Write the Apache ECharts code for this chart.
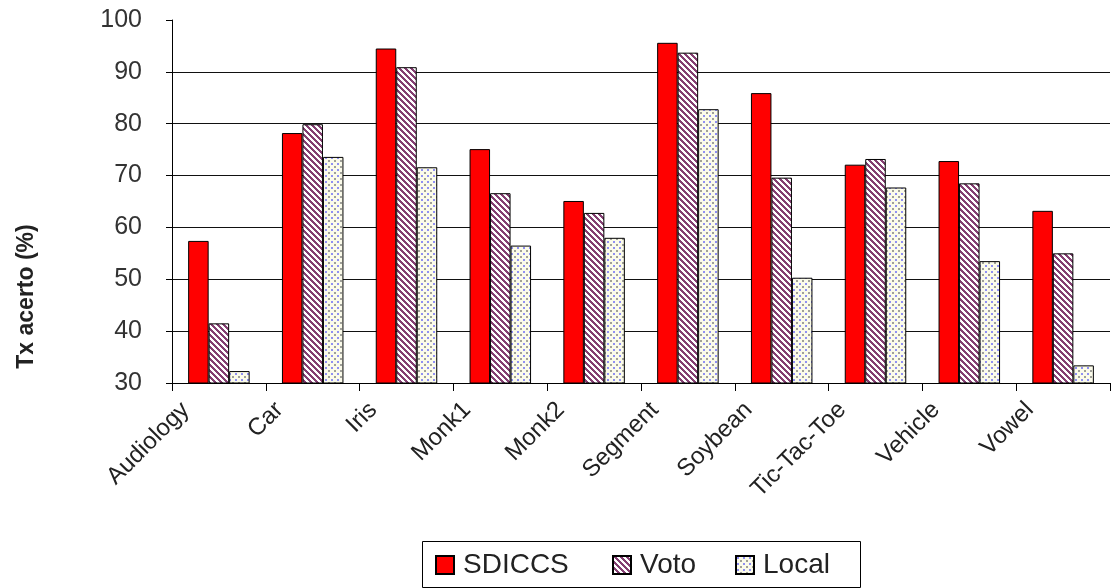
<!DOCTYPE html>
<html>
<head>
<meta charset="utf-8">
<title>Tx acerto por base de dados</title>
<script src="https://cdn.jsdelivr.net/npm/echarts@6/dist/echarts.min.js"></script>
<style>
  html, body { margin: 0; padding: 0; background: #ffffff; }
  #chart { width: 1112px; height: 588px; }
</style>
</head>
<body>
<div id="chart"></div>
<script>
// Accuracy (%) per dataset for three classifier combination strategies
const categories = ['Audiology', 'Car', 'Iris', 'Monk1', 'Monk2', 'Segment', 'Soybean', 'Tic-Tac-Toe', 'Vehicle', 'Vowel'];
const sdiccs = [57.4, 78.2, 94.5, 75.1, 65.1, 95.6, 85.9, 72.1, 72.8, 63.2];
const voto   = [41.5, 79.9, 90.9, 66.6, 62.8, 93.7, 69.6, 73.2, 68.5, 55.0];
const local  = [32.3, 73.6, 71.6, 56.5, 58.0, 82.8, 50.3, 67.7, 53.5, 33.4];
const seriesNames = ['SDICCS', 'Voto', 'Local'];
const yTicks = { min: 30, max: 100, step: 10 };

// Diagonal stripe fill (top-left to bottom-right)
function stripeTile() {
  const c = document.createElement('canvas');
  c.width = 6; c.height = 6;
  const ctx = c.getContext('2d');
  ctx.fillStyle = '#ffffff';
  ctx.fillRect(0, 0, 6, 6);
  ctx.fillStyle = '#843f72';
  for (let y = 0; y < 6; y++) {
    for (let x = 0; x < 6; x++) {
      if (((x - y) % 6 + 6) % 6 < 3) ctx.fillRect(x, y, 1, 1);
    }
  }
  return c;
}

// Small dotted fill on a pale background
function dotTile() {
  const c = document.createElement('canvas');
  c.width = 6; c.height = 6;
  const ctx = c.getContext('2d');
  ctx.fillStyle = '#fbfbea';
  ctx.fillRect(0, 0, 6, 6);
  ctx.fillStyle = '#8f8ff2';
  ctx.fillRect(1, 1, 2, 2);
  ctx.fillStyle = '#a0a09a';
  ctx.fillRect(4, 4, 2, 2);
  return c;
}

const fills = [
  '#ff0000',
  { image: stripeTile(), repeat: 'repeat' },
  { image: dotTile(), repeat: 'repeat' }
];
const values = [sdiccs, voto, local];

// Legend layout: one entry per series inside a shared framed box
const legendBox = { x: 422, y: 541, width: 438, height: 46 };
const legendLefts = [435, 612, 735];

const chart = echarts.init(document.getElementById('chart'), null, { renderer: 'canvas' });

const gridColors = [];
for (let v = yTicks.min; v <= yTicks.max; v += yTicks.step) {
  gridColors.push(v === yTicks.min || v === yTicks.max ? 'rgba(0,0,0,0)' : '#111111');
}

chart.setOption({
  animation: false,
  backgroundColor: '#ffffff',
  textStyle: { fontFamily: '"Liberation Sans", Arial, sans-serif' },
  grid: { left: 172, right: 2, top: 20, bottom: 205, containLabel: false },
  graphic: [{
    type: 'rect',
    z: 0,
    shape: { x: legendBox.x + 0.5, y: legendBox.y + 0.5, width: legendBox.width, height: legendBox.height },
    style: { fill: '#ffffff', stroke: '#000000', lineWidth: 1 }
  }],
  legend: seriesNames.map((n, i) => ({
    data: [n],
    icon: 'rect',
    top: legendBox.y + 10,
    left: legendLefts[i],
    padding: 0,
    itemWidth: 18,
    itemHeight: 18,
    textStyle: { fontSize: 28, color: '#222222', padding: [0, 0, 0, 4] }
  })),
  xAxis: {
    type: 'category',
    data: categories,
    axisLine: { lineStyle: { color: '#000000', width: 1 } },
    axisTick: { show: true, length: 8, lineStyle: { color: '#000000' } },
    axisLabel: {
      interval: 0,
      rotate: 45,
      margin: -10,
      formatter: v => '{t|' + v + '}{s| }',
      rich: {
        t: { fontSize: 24, color: '#222222' },
        s: { width: 47, fontSize: 24 }
      }
    },
    splitLine: { show: false }
  },
  yAxis: {
    type: 'value',
    min: yTicks.min,
    max: yTicks.max,
    interval: yTicks.step,
    name: 'Tx acerto (%)',
    nameLocation: 'middle',
    nameGap: 134,
    nameTextStyle: { fontSize: 23, fontWeight: 'bold', color: '#222222', padding: [0, 190, 0, 0] },
    axisLine: { show: true, lineStyle: { color: '#000000', width: 1 } },
    axisTick: { show: true, inside: false, length: 6, lineStyle: { color: '#000000' } },
    axisLabel: { fontSize: 25, margin: 30, color: '#333333' },
    splitLine: { show: true, lineStyle: { color: gridColors, width: 1 } }
  },
  series: seriesNames.map((name, i) => ({
    name: name,
    type: 'bar',
    data: values[i],
    barWidth: 20.5,
    barGap: '0%',
    itemStyle: { color: fills[i], borderColor: '#000000', borderWidth: 1 }
  }))
});
</script>
</body>
</html>
